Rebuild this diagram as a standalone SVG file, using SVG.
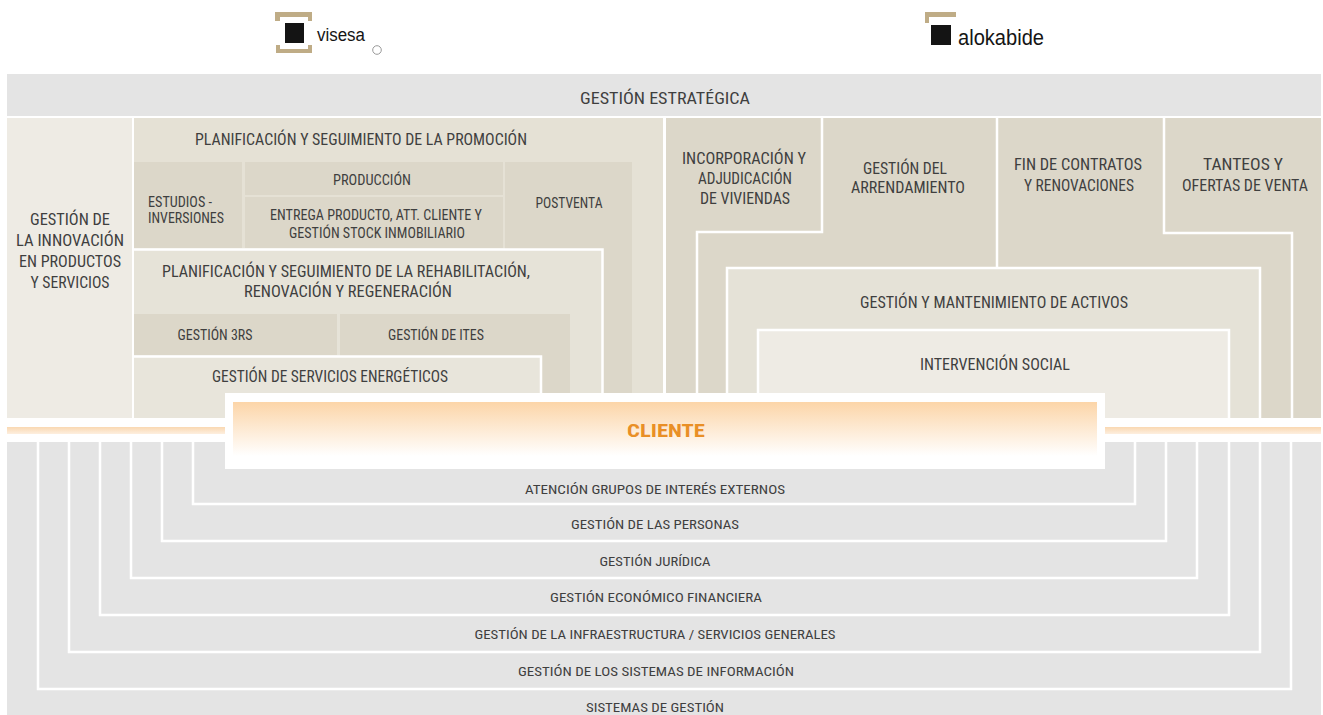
<svg xmlns="http://www.w3.org/2000/svg" width="1323" height="715" viewBox="0 0 1323 715">
<defs>
<linearGradient id="gCli" x1="0" y1="0" x2="0" y2="1">
<stop offset="0" stop-color="#fcd5a8"/>
<stop offset="0.9" stop-color="#ffffff"/>
<stop offset="1" stop-color="#ffffff"/>
</linearGradient>
<linearGradient id="gStripe" x1="0" y1="0" x2="0" y2="1">
<stop offset="0" stop-color="#fad8b2"/>
<stop offset="1" stop-color="#fdefdf"/>
</linearGradient>
<style>
text{font-family:"Roboto Condensed","Open Sans Condensed","Liberation Sans Narrow","Liberation Sans",Arial,sans-serif;fill:#3f3f3f;text-anchor:middle}
.m{font-size:16px}
.s{font-size:14px}
.b{font-size:13px}
.l{text-anchor:start}
.wl{fill:none;stroke:#ffffff;stroke-width:2.5}
.dark{fill:#dcd7c9}
.mid{fill:#e5e1d5}
.light{fill:#eeebe4}
.gray{fill:#e4e4e4}
.logo{font-family:"Liberation Sans",Arial,sans-serif;fill:#151515;text-anchor:start}
.gold{fill:#bfac86}
</style>
</defs>
<rect width="1323" height="715" fill="#ffffff"/>

<g id="logo-visesa">
<path class="gold" d="M275 12H312V21H308V17H280V21H275Z"/>
<path class="gold" d="M276 45H280V49H308V45H312V53H276Z"/>
<rect x="285" y="23" width="19" height="20" fill="#141414"/>
<text class="logo" x="317" y="41" font-size="18" textLength="48" lengthAdjust="spacingAndGlyphs">visesa</text>
<circle cx="377" cy="50" r="4.3" fill="none" stroke="#9a9a9a" stroke-width="1"/>
</g>

<g id="logo-alokabide">
<path class="gold" d="M925 12H956V17H929V23H925Z"/>
<rect x="931" y="25" width="20" height="20" fill="#141414"/>
<text class="logo" x="958" y="45" font-size="22" textLength="86" lengthAdjust="spacingAndGlyphs">alokabide</text>
</g>

<g id="gestion-estrategica">
<rect x="7" y="74" width="1314" height="42" class="gray"/>
<text class="m" x="665" y="104" textLength="170" lengthAdjust="spacingAndGlyphs">GESTIÓN ESTRATÉGICA</text>
</g>

<g id="innovacion">
<rect x="7" y="118" width="125" height="300" class="light"/>
<text class="m" x="70" y="225" textLength="80" lengthAdjust="spacingAndGlyphs">GESTIÓN DE</text>
<text class="m" x="70" y="246" textLength="108" lengthAdjust="spacingAndGlyphs">LA INNOVACIÓN</text>
<text class="m" x="70" y="267" textLength="102" lengthAdjust="spacingAndGlyphs">EN PRODUCTOS</text>
<text class="m" x="70" y="288" textLength="79" lengthAdjust="spacingAndGlyphs">Y SERVICIOS</text>
</g>

<g id="promocion">
<rect x="134" y="118" width="529" height="300" class="mid"/>
<text class="m" x="361" y="145" textLength="332" lengthAdjust="spacingAndGlyphs">PLANIFICACIÓN Y SEGUIMIENTO DE LA PROMOCIÓN</text>
</g>
<g id="estudios">
<rect x="134" y="162" width="108" height="86" class="dark"/>
<text class="s l" x="148" y="207" textLength="64" lengthAdjust="spacingAndGlyphs">ESTUDIOS -</text>
<text class="s l" x="148" y="223" textLength="76" lengthAdjust="spacingAndGlyphs">INVERSIONES</text>
</g>
<g id="produccion">
<rect x="245" y="162" width="258" height="33" class="dark"/>
<text class="s" x="372" y="185" textLength="78" lengthAdjust="spacingAndGlyphs">PRODUCCIÓN</text>
</g>
<g id="entrega">
<rect x="245" y="197" width="258" height="51" class="dark"/>
<text class="s" x="376" y="220" textLength="212" lengthAdjust="spacingAndGlyphs">ENTREGA PRODUCTO, ATT. CLIENTE Y</text>
<text class="s" x="377" y="238" textLength="176" lengthAdjust="spacingAndGlyphs">GESTIÓN STOCK INMOBILIARIO</text>
</g>
<g id="postventa">
<rect x="505" y="162" width="127" height="256" class="dark"/>
<text class="s" x="569" y="208" textLength="67" lengthAdjust="spacingAndGlyphs">POSTVENTA</text>
</g>
<g id="rehabilitacion">
<rect x="134" y="250" width="468" height="168" fill="#e6e3d8"/>
<path class="wl" d="M134 249.5H602.5V418"/>
<text class="m" x="346" y="277" textLength="368" lengthAdjust="spacingAndGlyphs">PLANIFICACIÓN Y SEGUIMIENTO DE LA REHABILITACIÓN,</text>
<text class="m" x="348" y="297" textLength="208" lengthAdjust="spacingAndGlyphs">RENOVACIÓN Y REGENERACIÓN</text>
</g>
<g id="gestion-3rs">
<rect x="134" y="314" width="203" height="41" class="dark"/>
<text class="s" x="215" y="340" textLength="75" lengthAdjust="spacingAndGlyphs">GESTIÓN 3RS</text>
</g>
<g id="gestion-ites">
<rect x="340" y="314" width="230" height="104" class="dark"/>
<text class="s" x="436" y="340" textLength="96" lengthAdjust="spacingAndGlyphs">GESTIÓN DE ITES</text>
</g>
<g id="energeticos">
<rect x="134" y="357" width="407" height="61" fill="#e8e5db"/>
<path class="wl" d="M134 356.5H541V418"/>
<text class="m" x="330" y="382" textLength="236" lengthAdjust="spacingAndGlyphs">GESTIÓN DE SERVICIOS ENERGÉTICOS</text>
</g>

<g id="alokabide-area">
<rect x="666" y="118" width="655" height="300" class="dark"/>
</g>
<g id="incorporacion">
<path class="wl" d="M822 118V232H697V418"/>
<text class="m" x="744" y="164" textLength="124" lengthAdjust="spacingAndGlyphs">INCORPORACIÓN Y</text>
<text class="m" x="745" y="184" textLength="94" lengthAdjust="spacingAndGlyphs">ADJUDICACIÓN</text>
<text class="m" x="745" y="204" textLength="90" lengthAdjust="spacingAndGlyphs">DE VIVIENDAS</text>
</g>
<g id="arrendamiento">
<path class="wl" d="M997 118V268"/>
<text class="m" x="905" y="174" textLength="84" lengthAdjust="spacingAndGlyphs">GESTIÓN DEL</text>
<text class="m" x="908" y="193" textLength="114" lengthAdjust="spacingAndGlyphs">ARRENDAMIENTO</text>
</g>
<g id="fin-contratos">
<text class="m" x="1078" y="170" textLength="128" lengthAdjust="spacingAndGlyphs">FIN DE CONTRATOS</text>
<text class="m" x="1079" y="191" textLength="110" lengthAdjust="spacingAndGlyphs">Y RENOVACIONES</text>
</g>
<g id="tanteos">
<path class="wl" d="M1164 118V233H1292V418"/>
<text class="m" x="1243" y="170" textLength="80" lengthAdjust="spacingAndGlyphs">TANTEOS Y</text>
<text class="m" x="1245" y="191" textLength="126" lengthAdjust="spacingAndGlyphs">OFERTAS DE VENTA</text>
</g>
<g id="mantenimiento">
<rect x="727" y="268" width="533" height="150" fill="#e5e2d7"/>
<path class="wl" d="M727 418V268H1260V418"/>
<text class="m" x="994" y="308" textLength="268" lengthAdjust="spacingAndGlyphs">GESTIÓN Y MANTENIMIENTO DE ACTIVOS</text>
</g>
<g id="intervencion">
<rect x="758" y="330" width="471" height="88" class="light"/>
<path class="wl" d="M758 418V330H1229V418"/>
<text class="m" x="995" y="370" textLength="150" lengthAdjust="spacingAndGlyphs">INTERVENCIÓN SOCIAL</text>
</g>

<g id="soporte">
<rect x="7" y="427" width="1314" height="7" fill="url(#gStripe)"/>
<rect x="7" y="442" width="1314" height="273" class="gray"/>
</g>
<g id="connectors">
<path class="wl" d="M193 442V504H1135V442"/>
<path class="wl" d="M162 442V541H1166V442"/>
<path class="wl" d="M131 442V578H1197V442"/>
<path class="wl" d="M100 442V615H1229V442"/>
<path class="wl" d="M69 442V652H1260V442"/>
<path class="wl" d="M38 442V689H1291V442"/>
</g>
<g id="atencion"><text class="b" x="655" y="494" textLength="260" lengthAdjust="spacingAndGlyphs">ATENCIÓN GRUPOS DE INTERÉS EXTERNOS</text></g>
<g id="personas"><text class="b" x="655" y="529" textLength="168" lengthAdjust="spacingAndGlyphs">GESTIÓN DE LAS PERSONAS</text></g>
<g id="juridica"><text class="b" x="655" y="566" textLength="111" lengthAdjust="spacingAndGlyphs">GESTIÓN JURÍDICA</text></g>
<g id="economico"><text class="b" x="656" y="602" textLength="212" lengthAdjust="spacingAndGlyphs">GESTIÓN ECONÓMICO FINANCIERA</text></g>
<g id="infraestructura"><text class="b" x="655" y="639" textLength="361" lengthAdjust="spacingAndGlyphs">GESTIÓN DE LA INFRAESTRUCTURA / SERVICIOS GENERALES</text></g>
<g id="sistemas-info"><text class="b" x="656" y="676" textLength="276" lengthAdjust="spacingAndGlyphs">GESTIÓN DE LOS SISTEMAS DE INFORMACIÓN</text></g>
<g id="sistemas-gestion"><text class="b" x="655" y="712" textLength="138" lengthAdjust="spacingAndGlyphs">SISTEMAS DE GESTIÓN</text></g>

<g id="cliente">
<rect x="225" y="393" width="880" height="76" fill="#ffffff"/>
<rect x="233" y="402" width="864" height="60" fill="url(#gCli)"/>
<text x="666" y="437" font-size="19" font-weight="bold" style="fill:#e98f26" textLength="78" lengthAdjust="spacingAndGlyphs">CLIENTE</text>
</g>
</svg>
